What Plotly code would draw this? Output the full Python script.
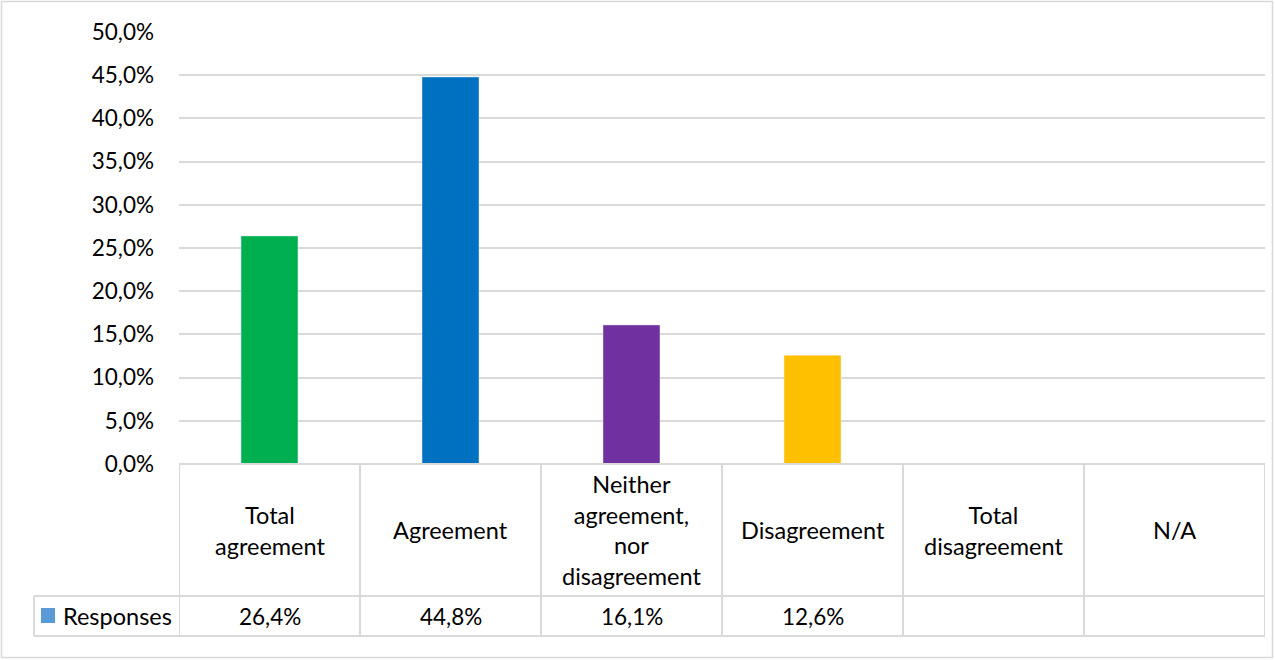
import plotly.graph_objects as go

# Survey responses by level of agreement (share of respondents)
categories = ["Total<br>agreement", "Agreement", "Neither<br>agreement,<br>nor<br>disagreement",
              "Disagreement", "Total<br>disagreement", "N/A"]
responses = [0.264, 0.448, 0.161, 0.126, None, None]
response_labels = ["26,4%", "44,8%", "16,1%", "12,6%", "", ""]
bar_colors = ["#00B050", "#0070C0", "#7030A0", "#FFC000", "#5B9BD5", "#5B9BD5"]
series_name = "Responses"
y_ticks = [0, 0.05, 0.10, 0.15, 0.20, 0.25, 0.30, 0.35, 0.40, 0.45, 0.50]

W, H = 1275, 660
ML, MR, MT, MB = 179, 10, 32, 196
PW, PH = W - ML - MR, H - MT - MB
FONT = "Lato, 'Open Sans', sans-serif"
FS_TXT = 23.5
FS_NUM = 22.5
GRID = "#D9D9D9"

xs = list(range(len(categories)))

fig = go.Figure()
fig.add_trace(go.Bar(
    x=xs, y=responses, name=series_name, marker_color=bar_colors,
    width=0.315, showlegend=False, hoverinfo="skip",
))

# helpers: pixel -> paper / domain / data coordinates
def ydom(px):
    return (MT + PH - px) / PH

def xpap(px):
    return (px - ML) / PW

y_top = 0.0
y_mid = ydom(596)
y_bot = ydom(636)

shapes = []
line = dict(color=GRID, width=2)
# horizontal table rules
shapes.append(dict(type="line", xref="paper", yref="paper", x0=0, x1=1,
                   y0=y_top, y1=y_top, line=line))
for yy in (y_mid, y_bot):
    shapes.append(dict(type="line", xref="paper", yref="paper", x0=xpap(34), x1=1,
                       y0=yy, y1=yy, line=line))
# vertical table rules
for i in range(len(categories) + 1):
    shapes.append(dict(type="line", xref="x", yref="paper", x0=i - 0.5, x1=i - 0.5,
                       y0=y_bot, y1=y_top, line=line))
shapes.append(dict(type="line", xref="paper", yref="paper", x0=xpap(34), x1=xpap(34),
                   y0=y_bot, y1=y_mid, line=line))
# legend key in the table
shapes.append(dict(type="rect", xref="paper", yref="paper",
                   x0=xpap(41), x1=xpap(55), y0=ydom(623), y1=ydom(608),
                   fillcolor="#5B9BD5", line=dict(width=0)))
# chart frame
shapes.append(dict(type="rect", xref="paper", yref="paper",
                   x0=xpap(1.5), x1=xpap(W - 2.5), y0=ydom(H - 2.5), y1=ydom(1.5),
                   line=dict(color=GRID, width=1.5), fillcolor="rgba(0,0,0,0)", layer="below"))

annotations = []
for i, (c, v) in enumerate(zip(categories, response_labels)):
    annotations.append(dict(x=i, y=(y_top + y_mid) / 2, xref="x", yref="paper", text=c,
                            showarrow=False, font=dict(family=FONT, size=FS_TXT, color="#000000"),
                            xanchor="center", yanchor="middle"))
    if v:
        annotations.append(dict(x=i, y=(y_mid + y_bot) / 2, xref="x", yref="paper", text=v,
                                showarrow=False, font=dict(family=FONT, size=FS_NUM, color="#000000"),
                                xanchor="center", yanchor="middle"))
annotations.append(dict(x=xpap(61), y=(y_mid + y_bot) / 2, xref="paper", yref="paper",
                        text=series_name, showarrow=False,
                        font=dict(family=FONT, size=FS_TXT, color="#000000"),
                        xanchor="left", yanchor="middle"))

fig.update_layout(
    width=W, height=H,
    margin=dict(l=ML, r=MR, t=MT, b=MB),
    paper_bgcolor="white", plot_bgcolor="white",
    separators=",.",
    font=dict(family=FONT, size=FS_NUM, color="#000000"),
    shapes=shapes, annotations=annotations,
    xaxis=dict(range=[-0.5, len(categories) - 0.5], showticklabels=False, showgrid=False,
               zeroline=False, showline=False, fixedrange=True),
    yaxis=dict(range=[0, 0.5], tickvals=y_ticks, tickformat=".1%", showgrid=True,
               gridcolor=GRID, gridwidth=1.5, zeroline=False, showline=False,
               ticklabelstandoff=24, fixedrange=True),
)

fig.write_html("out.html")
